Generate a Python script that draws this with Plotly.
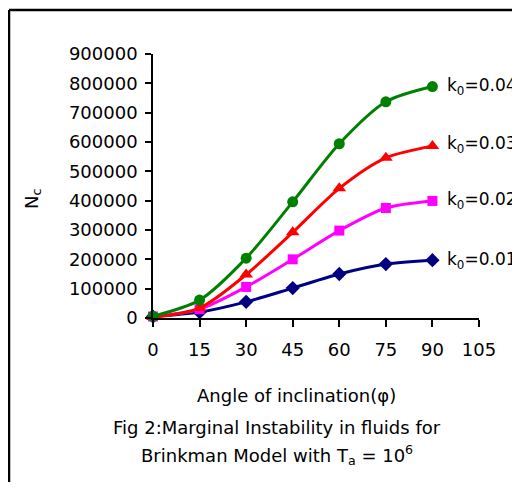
import plotly.graph_objects as go

angles = [0, 15, 30, 45, 60, 75, 90]
nc_k001 = [5000, 20000, 55000, 102000, 150000, 184000, 197000]
nc_k002 = [5000, 30000, 106000, 200000, 298000, 375000, 399000]
nc_k003 = [3000, 34000, 148000, 292000, 442000, 546000, 586000]
nc_k004 = [6000, 61000, 204000, 396000, 594000, 737000, 789000]

series = [
    ("k<sub>0</sub>=0.01", nc_k001, "#000080", "diamond", 11),
    ("k<sub>0</sub>=0.02", nc_k002, "#FF00FF", "square", 10),
    ("k<sub>0</sub>=0.03", nc_k003, "#FF0000", "triangle-up", 12),
    ("k<sub>0</sub>=0.04", nc_k004, "#008000", "circle", 11),
]
label_y = [197000, 400000, 590000, 790000]

x_ticks = [0, 15, 30, 45, 60, 75, 90, 105]
y_ticks = [0, 100000, 200000, 300000, 400000, 500000, 600000, 700000, 800000, 900000]

FONT = "DejaVu Sans, Liberation Sans, Arial, sans-serif"
FS = 18

H = 474
B = H - 46 - 264  # keep plot area height at 264 px
PH = 264.0

def py(px_from_axis):
    """paper y for a distance in px below the x axis"""
    return -px_from_axis / PH

fig = go.Figure()
for (name, vals, col, sym, sz) in series:
    fig.add_trace(go.Scatter(
        x=angles, y=vals, mode="lines+markers", name=name,
        line=dict(color=col, width=3, shape="spline", smoothing=0.8),
        marker=dict(symbol=sym, size=sz, color=col),
        cliponaxis=False, showlegend=False,
    ))

for (name, vals, col, sym, sz), ly in zip(series, label_y):
    fig.add_annotation(x=94.0, y=ly, xref="x", yref="y", text=name,
                       showarrow=False, xanchor="left", yanchor="middle",
                       font=dict(family=FONT, size=17, color="black"))

fig.add_annotation(x=0.44, y=-0.295, xref="paper", yref="paper",
                   text="Angle of inclination(\u03c6)", showarrow=False,
                   xanchor="center", yanchor="middle",
                   font=dict(family=FONT, size=FS, color="black"))
fig.add_annotation(x=0.38, y=-0.415, xref="paper", yref="paper",
                   text="Fig 2:Marginal Instability in fluids for", showarrow=False,
                   xanchor="center", yanchor="middle",
                   font=dict(family=FONT, size=FS, color="black"))
fig.add_annotation(x=0.38, y=-0.52, xref="paper", yref="paper",
                   text="Brinkman Model with T<sub>a</sub> = 10<sup>6</sup>", showarrow=False,
                   xanchor="center", yanchor="middle",
                   font=dict(family=FONT, size=FS, color="black"))
fig.add_annotation(x=-0.369, y=0.45, xref="paper", yref="paper",
                   text="N<sub>c</sub>", showarrow=False, textangle=-90,
                   xanchor="center", yanchor="middle",
                   font=dict(family=FONT, size=FS, color="black"))

# outer frame (partially visible: left and top edges)
fig.add_shape(type="line", xref="paper", yref="paper", x0=-0.4417, x1=-0.4417,
              y0=1.167, y1=-1.0, line=dict(color="black", width=2.5))
fig.add_shape(type="line", xref="paper", yref="paper", x0=-0.4417, x1=1.5,
              y0=1.167, y1=1.167, line=dict(color="black", width=2.5))

fig.update_xaxes(range=[0, 105], tickvals=x_ticks, ticktext=[str(t) for t in x_ticks],
                 showgrid=False, zeroline=False, showline=True, linecolor="black",
                 linewidth=1.5, ticks="outside", ticklen=7, tickcolor="black",
                 tickwidth=1.5, ticklabelstandoff=8,
                 tickfont=dict(family=FONT, size=FS, color="black"))
fig.update_yaxes(range=[0, 900000], tickvals=y_ticks, ticktext=[str(t) for t in y_ticks],
                 showgrid=False, zeroline=False, showline=True, linecolor="black",
                 linewidth=1.5, ticks="outside", ticklen=6, tickcolor="black",
                 tickwidth=1.5, ticklabelstandoff=4,
                 tickfont=dict(family=FONT, size=FS, color="black"))

fig.update_layout(
    width=512, height=H,
    margin=dict(l=145, r=41, t=46, b=B),
    paper_bgcolor="white", plot_bgcolor="white",
    font=dict(family=FONT, size=FS, color="black"),
)

fig.write_html("out.html")
